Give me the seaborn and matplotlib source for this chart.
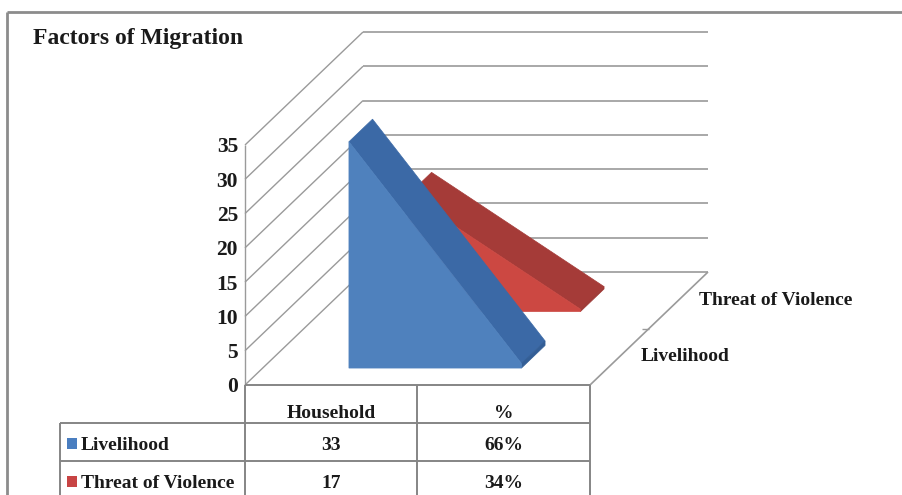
import numpy as np
import matplotlib
matplotlib.use("Agg")
import matplotlib.pyplot as plt
from matplotlib.patches import Polygon, Rectangle
from matplotlib.transforms import Affine2D, ScaledTranslation, blended_transform_factory
import seaborn as sns

# ---- data -------------------------------------------------------------
title = "Factors of Migration"
categories = ["Household", "%"]
series_names = ["Livelihood", "Threat of Violence"]
livelihood = [33, 0.66]
threat_of_violence = [17, 0.34]
y_ticks = [0, 5, 10, 15, 20, 25, 30, 35]

series_values = [livelihood, threat_of_violence]

# ---- style ------------------------------------------------------------
sns.set_theme(style="white")
plt.rcParams["font.family"] = ["Liberation Serif", "DejaVu Serif"]
plt.rcParams["font.weight"] = "bold"

face_colors = sns.color_palette(["#4F81BD", "#CC4842"])   # front faces
top_colors = sns.color_palette(["#3B69A6", "#A53B38"])    # top / side faces
cap_colors = sns.color_palette(["#335E96", "#9E3936"])
key_colors = sns.color_palette(["#4A7EC0", "#C84444"])
grid_col = "#9a9a9a"
line_col = "#858585"
text_col = "#1a1a1a"

W, H = 903, 495
fig = plt.figure(figsize=(W / 100, H / 100), dpi=100)
fig.patch.set_facecolor("white")

# pixel layout helper (origin top-left)
px = Affine2D().scale(1 / W, -1 / H).translate(0, 1) + fig.transFigure

# front plane of the value axis
PL, PR, PT, PB = 245, 590, 145, 385
ax = fig.add_axes([PL / W, 1 - PB / H, (PR - PL) / W, (PB - PT) / H])
ax.set_xlim(0, len(categories))
ax.set_ylim(0, y_ticks[-1])
ax.patch.set_alpha(0)
for s in ax.spines.values():
    s.set_visible(False)
ax.set_xticks([])
ax.set_yticks(y_ticks)
ax.tick_params(axis="y", length=0, pad=5, labelsize=15.5, labelcolor=text_col)
for lab in ax.get_yticklabels():
    lab.set_fontweight("bold")

# oblique depth direction, display pixels for one full depth unit
DEPTH = np.array([118.0, 113.0]) * fig.dpi / 100


def proj(x, y, d):
    """Data point (x, y) pushed back by depth fraction d, returned in data coords."""
    x, y, d = np.broadcast_arrays(np.asarray(x, float), np.asarray(y, float), np.asarray(d, float))
    disp = ax.transData.transform(np.column_stack([x, y]))
    disp = disp + d[:, None] * DEPTH
    return ax.transData.inverted().transform(disp)


def line(pts, **kw):
    ax.plot(pts[:, 0], pts[:, 1], clip_on=False, solid_capstyle="butt", **kw)


# ---- walls and floor --------------------------------------------------
x_end = len(categories)
for v in y_ticks:
    line(proj([0, 0], [v, v], [0, 1]), color=grid_col, lw=1.0, zorder=1)        # side wall
    line(proj([0, x_end], [v, v], [1, 1]), color=grid_col, lw=1.2, zorder=1)    # back wall
line(proj([0, 0], [0, y_ticks[-1]], [0, 0]), color=grid_col, lw=1.0, zorder=1)
line(proj([x_end, x_end], [0, 0], [0, 1]), color=grid_col, lw=1.2, zorder=1)
# depth-axis tick between the two series
tick_at = proj([x_end], [0], [0.5])[0]
ax.plot([tick_at[0]], [tick_at[1]], marker=0, markersize=5, color=grid_col,
        mew=1.0, clip_on=False, zorder=1)

# ---- 3-D areas (back series first) ------------------------------------
xs = np.arange(len(categories)) + 0.5
slot = 1.0 / len(series_names)
thick = 0.2
for i in reversed(range(len(series_names))):
    v = series_values[i]
    f = slot * i + (slot - thick) / 2
    b = f + thick
    top = proj([xs[0], xs[1], xs[1], xs[0]], [v[0], v[1], v[1], v[0]], [f, f, b, b])
    cap = proj([xs[1]] * 4, [0, v[1], v[1], 0], [f, f, b, b])
    front = proj([xs[0], xs[0], xs[1], xs[1]], [0, v[0], v[1], 0], [f] * 4)
    z = 3 + 3 * (len(series_names) - i)
    ax.add_patch(Polygon(top, closed=True, fc=top_colors[i], ec=top_colors[i],
                         lw=0.5, clip_on=False, zorder=z))
    ax.add_patch(Polygon(cap, closed=True, fc=cap_colors[i], ec=cap_colors[i],
                         lw=0.5, clip_on=False, zorder=z + 1))
    ax.add_patch(Polygon(front, closed=True, fc=face_colors[i], ec=face_colors[i],
                         lw=0.5, clip_on=False, zorder=z + 2))

# depth-axis (series) labels
lab_off = ScaledTranslation(21 / 100, 0, fig.dpi_scale_trans)
for i, name in enumerate(series_names):
    p = proj([x_end], [0], [slot * i + slot / 2])[0]
    ax.text(p[0], p[1], name, transform=ax.transData + lab_off, ha="left",
            va="center", fontsize=14, color=text_col, fontweight="bold")

# ---- data table -------------------------------------------------------
bx = blended_transform_factory(ax.transData, px)
tbl_left = 60
header_y, row_y = 385, [423, 461]
bottom = H + 5
tkw = dict(color=line_col, lw=1.4, clip_on=False, zorder=2, solid_capstyle="butt")
# horizontal rules
fig.add_artist(plt.Line2D([0, x_end], [header_y, header_y], transform=bx, **tkw))
for ry in row_y:
    xa = ax.transData.transform((x_end, 0))[0]
    fig.add_artist(plt.Line2D([tbl_left / W, fig.transFigure.inverted().transform((xa, 0))[0]],
                              [1 - ry / H, 1 - ry / H], transform=fig.transFigure, **tkw))
# vertical rules
for cx in range(len(categories) + 1):
    fig.add_artist(plt.Line2D([cx, cx], [header_y, bottom], transform=bx, **tkw))
fig.add_artist(plt.Line2D([tbl_left, tbl_left], [row_y[0], bottom], transform=px, **tkw))

# header and cells
for c, name in enumerate(categories):
    fig.text(xs[c], 418, name, transform=bx, ha="center", va="baseline",
             fontsize=14, color=text_col, fontweight="bold")
baselines = [450, 488]
for i, name in enumerate(series_names):
    by = baselines[i]
    fig.add_artist(Rectangle((67, by - 1), 10, -11, transform=px, fc=key_colors[i],
                             ec="none"))
    fig.text(81, by, name, transform=px, ha="left", va="baseline", fontsize=14,
             color=text_col, fontweight="bold")
    count, share = series_values[i]
    fig.text(xs[0], by, f"{count:.0f}", transform=bx, ha="center", va="baseline",
             fontsize=14, color=text_col, fontweight="bold")
    fig.text(xs[1], by, f"{share * 100:.0f}%", transform=bx, ha="center",
             va="baseline", fontsize=14, color=text_col, fontweight="bold")

# ---- title and chart frame -------------------------------------------
fig.text(33, 44, title, transform=px, ha="left", va="baseline", fontsize=17,
         color=text_col, fontweight="bold")
fkw = dict(color="#8c8c8c", lw=2.0, transform=px, solid_capstyle="butt")
fig.add_artist(plt.Line2D([7, W + 2], [12, 12], **fkw))
fig.add_artist(plt.Line2D([7, 7], [12, H + 2], **fkw))

fig.savefig("out.png", dpi=100, facecolor="white")
